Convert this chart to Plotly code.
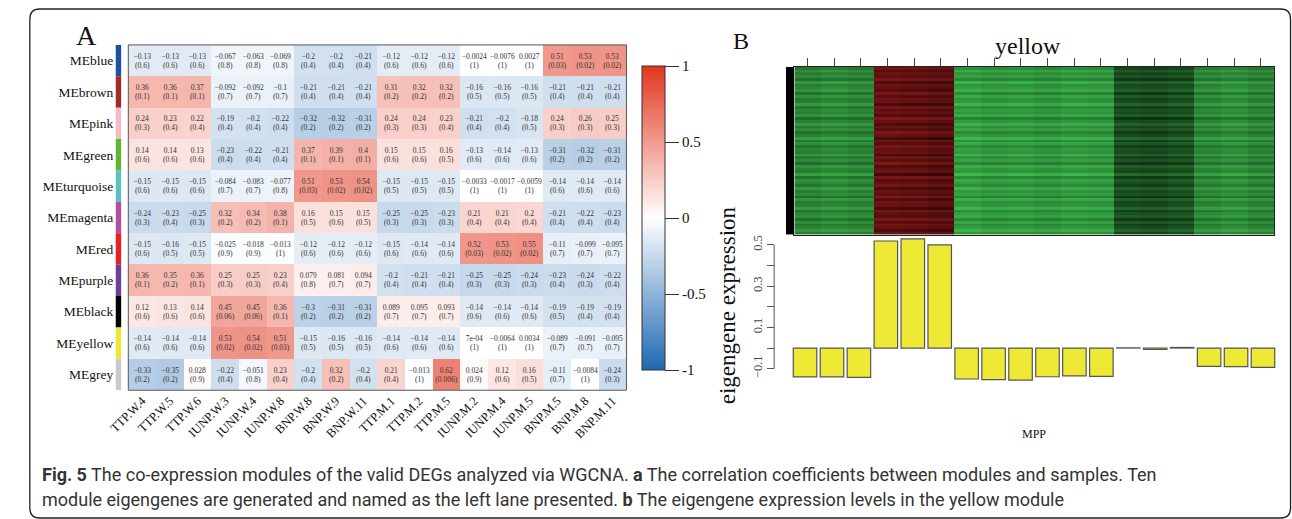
import plotly.graph_objects as go

W, H = 1292, 519


def px(x):
    return x / W


def py(y):
    return 1 - y / H


# ---------------- Panel A data ----------------
samples = ["TTP.W.4", "TTP.W.5", "TTP.W.6", "IUNP.W.3", "IUNP.W.4", "IUNP.W.8",
           "BNP.W.8", "BNP.W.9", "BNP.W.11", "TTP.M.1", "TTP.M.2", "TTP.M.5",
           "IUNP.M.2", "IUNP.M.4", "IUNP.M.5", "BNP.M.5", "BNP.M.8", "BNP.M.11"]

modules = ["MEblue", "MEbrown", "MEpink", "MEgreen", "MEturquoise", "MEmagenta",
           "MEred", "MEpurple", "MEblack", "MEyellow", "MEgrey"]

module_colors = ["#1f4fa0", "#a32a2a", "#f4b9c6", "#62b530", "#5cc2bd", "#b1509f",
                 "#e8231f", "#6f3f98", "#000000", "#ede735", "#c9c9c9"]

cor = [
    [-0.13, -0.13, -0.13, -0.067, -0.063, -0.069, -0.2, -0.2, -0.21, -0.12, -0.12, -0.12, -0.0024, -0.0076, 0.0027, 0.51, 0.53, 0.53],
    [0.36, 0.36, 0.37, -0.092, -0.092, -0.1, -0.21, -0.21, -0.21, 0.31, 0.32, 0.32, -0.16, -0.16, -0.16, -0.21, -0.21, -0.21],
    [0.24, 0.23, 0.22, -0.19, -0.2, -0.22, -0.32, -0.32, -0.31, 0.24, 0.24, 0.23, -0.21, -0.2, -0.18, 0.24, 0.26, 0.25],
    [0.14, 0.14, 0.13, -0.23, -0.22, -0.21, 0.37, 0.39, 0.4, 0.15, 0.15, 0.16, -0.13, -0.14, -0.13, -0.31, -0.32, -0.31],
    [-0.15, -0.15, -0.15, -0.084, -0.083, -0.077, 0.51, 0.53, 0.54, -0.15, -0.15, -0.15, -0.0033, -0.0017, -0.0059, -0.14, -0.14, -0.14],
    [-0.24, -0.23, -0.25, 0.32, 0.34, 0.38, 0.16, 0.15, 0.15, -0.25, -0.25, -0.23, 0.21, 0.21, 0.2, -0.21, -0.22, -0.23],
    [-0.15, -0.16, -0.15, -0.025, -0.018, -0.013, -0.12, -0.12, -0.12, -0.15, -0.14, -0.14, 0.52, 0.53, 0.55, -0.11, -0.099, -0.095],
    [0.36, 0.35, 0.36, 0.25, 0.25, 0.23, 0.079, 0.081, 0.094, -0.2, -0.21, -0.21, -0.25, -0.25, -0.24, -0.23, -0.24, -0.22],
    [0.12, 0.13, 0.14, 0.45, 0.45, 0.36, -0.3, -0.31, -0.31, 0.089, 0.095, 0.093, -0.14, -0.14, -0.14, -0.19, -0.19, -0.19],
    [-0.14, -0.14, -0.14, 0.53, 0.54, 0.51, -0.15, -0.16, -0.16, -0.14, -0.14, -0.14, 0.0007, -0.0064, 0.0034, -0.089, -0.091, -0.095],
    [-0.33, -0.35, 0.028, -0.22, -0.051, 0.23, -0.2, 0.32, -0.2, 0.21, -0.013, 0.62, 0.024, 0.12, 0.16, -0.11, -0.0084, -0.24],
]

pval = [
    [0.6, 0.6, 0.6, 0.8, 0.8, 0.8, 0.4, 0.4, 0.4, 0.6, 0.6, 0.6, 1, 1, 1, 0.03, 0.02, 0.02],
    [0.1, 0.1, 0.1, 0.7, 0.7, 0.7, 0.4, 0.4, 0.4, 0.2, 0.2, 0.2, 0.5, 0.5, 0.5, 0.4, 0.4, 0.4],
    [0.3, 0.4, 0.4, 0.4, 0.4, 0.4, 0.2, 0.2, 0.2, 0.3, 0.3, 0.4, 0.4, 0.4, 0.5, 0.3, 0.3, 0.3],
    [0.6, 0.6, 0.6, 0.4, 0.4, 0.4, 0.1, 0.1, 0.1, 0.6, 0.6, 0.5, 0.6, 0.6, 0.6, 0.2, 0.2, 0.2],
    [0.6, 0.6, 0.6, 0.7, 0.7, 0.8, 0.03, 0.02, 0.02, 0.5, 0.5, 0.5, 1, 1, 1, 0.6, 0.6, 0.6],
    [0.3, 0.4, 0.3, 0.2, 0.2, 0.1, 0.5, 0.6, 0.5, 0.3, 0.3, 0.3, 0.4, 0.4, 0.4, 0.4, 0.4, 0.4],
    [0.6, 0.5, 0.5, 0.9, 0.9, 1, 0.6, 0.6, 0.6, 0.6, 0.6, 0.6, 0.03, 0.02, 0.02, 0.7, 0.7, 0.7],
    [0.1, 0.2, 0.1, 0.3, 0.3, 0.4, 0.8, 0.7, 0.7, 0.4, 0.4, 0.4, 0.3, 0.3, 0.3, 0.4, 0.3, 0.4],
    [0.6, 0.6, 0.6, 0.06, 0.06, 0.1, 0.2, 0.2, 0.2, 0.7, 0.7, 0.7, 0.6, 0.6, 0.6, 0.5, 0.4, 0.4],
    [0.6, 0.6, 0.6, 0.02, 0.02, 0.03, 0.5, 0.5, 0.5, 0.6, 0.6, 0.6, 1, 1, 1, 0.7, 0.7, 0.7],
    [0.2, 0.2, 0.9, 0.4, 0.8, 0.4, 0.4, 0.2, 0.4, 0.4, 1, 0.006, 0.9, 0.6, 0.5, 0.7, 1, 0.3],
]

colorbar_ticks = [-1, -0.5, 0, 0.5, 1]

# ---------------- Panel B data ----------------
# yellow-module expression heatmap: per-sample level (green low / red high)
yellow_levels = [-0.70, -0.74, -0.70, 0.42, 0.40, 0.36, -0.84, -0.80, -0.82,
                 -0.78, -0.82, -0.80, -0.42, -0.40, -0.44, -0.72, -0.76, -0.70]
# per-gene shading read as stripes (estimated)
gene_shades = [0.05, -0.10, 0.02, 0.08, -0.04, 0.12, -0.06, 0.00, 0.10, -0.12,
               0.03, 0.06, -0.08, 0.14, -0.02, 0.04, -0.10, 0.09, 0.01, -0.05,
               0.11, -0.14, 0.05, 0.02, -0.07, 0.13, -0.03, 0.07, -0.11, 0.04,
               0.00, 0.10, -0.06, 0.08, -0.13, 0.03, 0.12, -0.04, 0.06, -0.09,
               0.02, 0.15, -0.07, 0.05, -0.01, 0.09, -0.12, 0.04, 0.07, -0.05,
               0.11, -0.08, 0.01, 0.06, -0.10, 0.13, -0.02, 0.05, -0.06, 0.08]

eigengene = [-0.140, -0.140, -0.142, 0.519, 0.529, 0.500, -0.150, -0.153, -0.155,
             -0.139, -0.135, -0.137, 0.001, -0.007, 0.003, -0.089, -0.090, -0.094]

bar_ticks = [-0.1, 0.0, 0.1, 0.2, 0.3, 0.4, 0.5]
bar_ticktext = ["\u22120.1", "", "0.1", "", "0.3", "", "0.5"]

caption_line1 = ("<b>Fig. 5</b> The co-expression modules of the valid DEGs analyzed via WGCNA. "
                 "<b>a</b> The correlation coefficients between modules and samples. Ten")
caption_line2 = ("module eigengenes are generated and named as the left lane presented. "
                 "<b>b</b> The eigengene expression levels in the yellow module")

SERIF = "Liberation Serif, Times New Roman, serif"
SANS = "Roboto, Open Sans, sans-serif"


def fmt_r(v):
    if v != 0 and abs(v) < 0.001:
        return f"{v:.0e}"
    return f"{v:.2g}".replace("-", "\u2212")


def fmt_p(p):
    return f"{p:.1g}"


cell_text = [[f"{fmt_r(r)}<br>({fmt_p(p)})" for r, p in zip(rr, pp)] for rr, pp in zip(cor, pval)]

bwr = [[0.0, "rgb(30,104,178)"], [0.5, "rgb(255,255,255)"], [1.0, "rgb(226,54,30)"]]
gbr = [[0.0, "rgb(62,190,78)"], [0.5, "rgb(0,0,0)"], [1.0, "rgb(235,40,40)"]]

zB = [[lv + g for lv in yellow_levels] for g in gene_shades]

fig = go.Figure()

# Panel A heatmap
fig.add_trace(go.Heatmap(
    z=cor, x=samples, y=modules, text=cell_text, texttemplate="%{text}",
    textfont=dict(family=SERIF, size=7.5, color="#333333"),
    colorscale=bwr, zmin=-1, zmax=1, hoverinfo="skip",
    colorbar=dict(
        x=px(632), xanchor="left", xpad=0, y=py(217.5), yanchor="middle", ypad=0,
        len=305 / H, lenmode="fraction", thickness=23, thicknessmode="pixels",
        outlinewidth=1, outlinecolor="#333333",
        tickvals=colorbar_ticks, ticktext=[f"{t:g}" for t in colorbar_ticks],
        ticks="outside", ticklen=14, tickcolor="#333333", tickwidth=1,
        tickfont=dict(family=SERIF, size=15, color="#111111"),
    ),
    xaxis="x", yaxis="y",
))

# module colour strip
fig.add_trace(go.Bar(
    x=[1] * len(modules), y=modules, orientation="h", width=1,
    marker=dict(color=module_colors, line=dict(width=0)),
    xaxis="x3", yaxis="y", hoverinfo="skip",
))

# Panel B heatmap
fig.add_trace(go.Heatmap(
    z=zB, x=samples, colorscale=gbr, zmin=-1, zmax=1, showscale=False,
    xaxis="x2", yaxis="y2", hoverinfo="skip",
))
# module strip (black) left of panel B heatmap
fig.add_trace(go.Heatmap(
    z=[[0]], colorscale=[[0, "black"], [1, "black"]], showscale=False,
    xaxis="x4", yaxis="y4", hoverinfo="skip",
))

# Panel B bars
fig.add_trace(go.Bar(
    x=samples, y=eigengene,
    marker=dict(color="#eee935", line=dict(color="#555555", width=1.2)),
    xaxis="x5", yaxis="y5", hoverinfo="skip",
))

fig.update_layout(
    width=W, height=H, margin=dict(l=0, r=0, t=0, b=0),
    paper_bgcolor="white", plot_bgcolor="white", showlegend=False,
    bargap=0.127,
    xaxis=dict(domain=[px(110), px(616)], anchor="y", tickangle=-45,
               tickfont=dict(family=SERIF, size=12.5, color="#111111"),
               showgrid=False, zeroline=False, ticks="", showline=False),
    yaxis=dict(domain=[py(390), py(44)], anchor="x", autorange="reversed",
               tickfont=dict(family=SERIF, size=13.5, color="#111111"),
               ticklabelstandoff=14, showgrid=False, zeroline=False, ticks=""),
    xaxis3=dict(domain=[px(97), px(103)], anchor="y", range=[0, 1], visible=False),
    xaxis2=dict(domain=[px(786.5), px(1273.7)], anchor="y2", side="top",
                ticks="outside", ticklen=8, tickcolor="#444444", showticklabels=False,
                showline=True, mirror=True, linecolor="#222222", showgrid=False, zeroline=False),
    yaxis2=dict(domain=[py(234), py(66)], anchor="x2", showticklabels=False,
                showline=True, mirror=True, linecolor="#222222", showgrid=False,
                zeroline=False, ticks=""),
    xaxis4=dict(domain=[px(778), px(786.5)], anchor="y4", visible=False),
    yaxis4=dict(domain=[py(234), py(66)], anchor="x4", visible=False),
    xaxis5=dict(domain=[px(783.7), px(1276.2)], anchor="y5", visible=False),
    yaxis5=dict(domain=[py(380.8), py(236.1)], anchor="free", position=px(766),
                range=[-0.16, 0.54], tickvals=bar_ticks, ticktext=bar_ticktext,
                ticks="outside", ticklen=7, tickcolor="#555555", tickangle=-90,
                tickfont=dict(family=SERIF, size=12.5, color="#444444"),
                showgrid=False, zeroline=False, showline=False),
)

# border around heatmap A
fig.add_shape(type="rect", xref="x domain", yref="y domain", x0=0, x1=1, y0=0, y1=1,
              line=dict(color="#555555", width=1), fillcolor="rgba(0,0,0,0)")
# R-style y-axis line of the bar plot
fig.add_shape(type="line", xref="paper", yref="y5", x0=px(766), x1=px(766),
              y0=bar_ticks[0], y1=bar_ticks[-1], line=dict(color="#555555", width=1))

# rounded outer frame
x0, y0, x1, y1, r = 10, 8, 1290.5, 518, 10
path = (f"M {px(x0 + r)},{py(y0)} L {px(x1 - r)},{py(y0)} Q {px(x1)},{py(y0)} {px(x1)},{py(y0 + r)} "
        f"L {px(x1)},{py(y1 - r)} Q {px(x1)},{py(y1)} {px(x1 - r)},{py(y1)} "
        f"L {px(x0 + r)},{py(y1)} Q {px(x0)},{py(y1)} {px(x0)},{py(y1 - r)} "
        f"L {px(x0)},{py(y0 + r)} Q {px(x0)},{py(y0)} {px(x0 + r)},{py(y0)} Z")
fig.add_shape(type="path", xref="paper", yref="paper", path=path,
              line=dict(color="#222222", width=1.3))

ann = [
    dict(text="A", x=px(68), y=py(35), size=28, family=SERIF, xa="center"),
    dict(text="B", x=px(732), y=py(40), size=24, family=SERIF, xa="center"),
    dict(text="yellow", x=px(1024), y=py(45), size=24, family=SERIF, xa="center"),
    dict(text="MPP", x=px(1030), y=py(434), size=12, family=SERIF, xa="center"),
    dict(text=caption_line1, x=px(20), y=py(474), size=18, family=SANS, xa="left"),
    dict(text=caption_line2, x=px(20), y=py(499), size=18, family=SANS, xa="left"),
]
for a in ann:
    fig.add_annotation(text=a["text"], x=a["x"], y=a["y"], xref="paper", yref="paper",
                       xanchor=a["xa"], yanchor="middle", showarrow=False,
                       font=dict(family=a["family"], size=a["size"],
                                 color="#333333" if a["xa"] == "left" else "#111111"))
fig.add_annotation(text="eigengene expression", x=px(719), y=py(305), xref="paper", yref="paper",
                   textangle=-90, showarrow=False, xanchor="center", yanchor="middle",
                   font=dict(family=SERIF, size=23, color="#111111"))

fig.write_html("out.html", config={"displayModeBar": False},
               post_script="document.body.style.margin='0px';")
